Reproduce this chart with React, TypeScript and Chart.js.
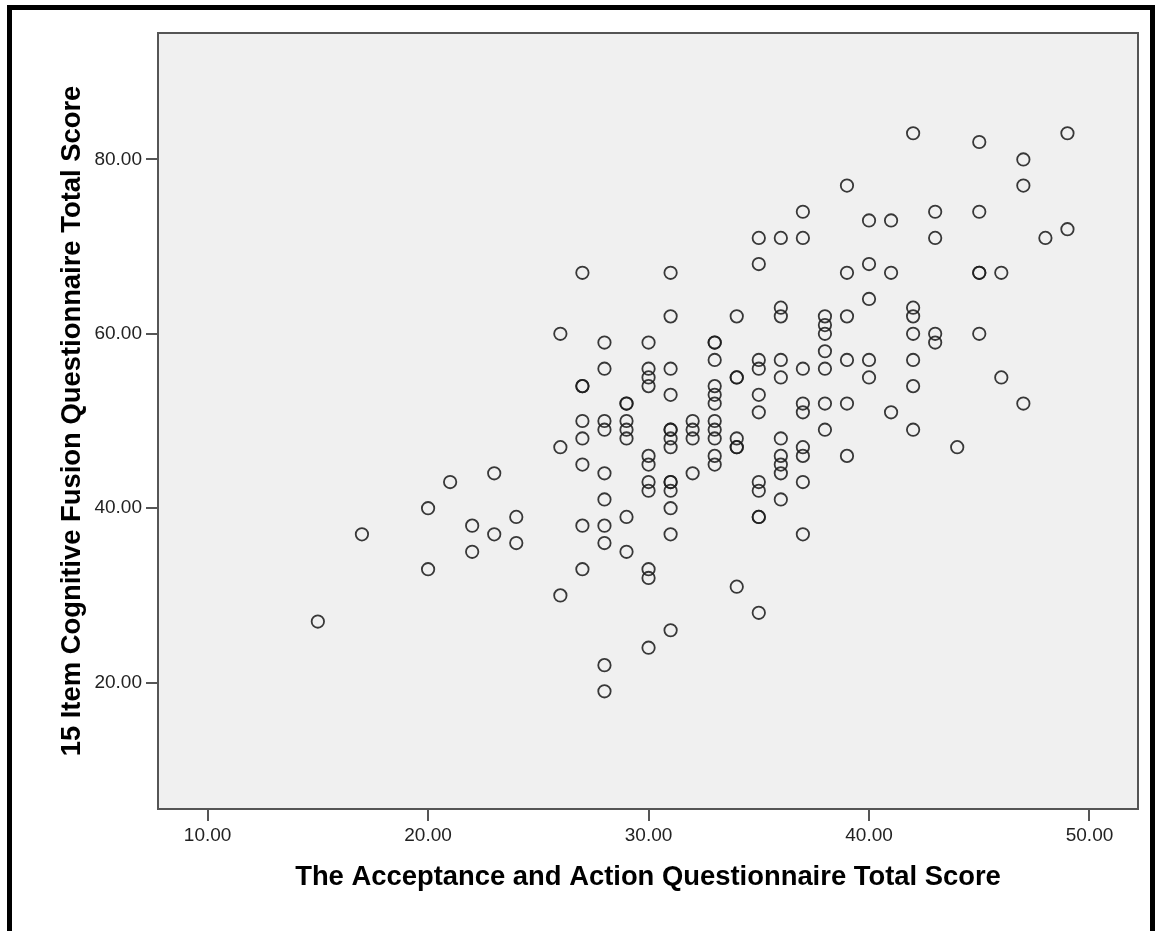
import React, { useEffect, useRef } from 'react';
import { Chart, registerables } from 'chart.js';

Chart.register(...registerables);

// The Acceptance and Action Questionnaire Total Score (x)
const aaqTotal: number[] = [
  15,
  17,
  20, 20,
  21,
  22, 22,
  23, 23,
  24, 24,
  26, 26, 26,
  27, 27, 27, 27, 27, 27, 27, 27,
  28, 28, 28, 28, 28, 28, 28, 28, 28, 28,
  29, 29, 29, 29, 29, 29, 29,
  30, 30, 30, 30, 30, 30, 30, 30, 30, 30, 30,
  31, 31, 31, 31, 31, 31, 31, 31, 31, 31, 31, 31, 31, 31,
  32, 32, 32, 32,
  33, 33, 33, 33, 33, 33, 33, 33, 33, 33, 33,
  34, 34, 34, 34, 34, 34, 34,
  35, 35, 35, 35, 35, 35, 35, 35, 35, 35, 35,
  36, 36, 36, 36, 36, 36, 36, 36, 36, 36,
  37, 37, 37, 37, 37, 37, 37, 37, 37,
  38, 38, 38, 38, 38, 38, 38,
  39, 39, 39, 39, 39, 39,
  40, 40, 40, 40, 40,
  41, 41, 41,
  42, 42, 42, 42, 42, 42, 42,
  43, 43, 43, 43,
  44,
  45, 45, 45, 45, 45,
  46, 46,
  47, 47, 47,
  48,
  49, 49,
];

// 15 Item Cognitive Fusion Questionnaire Total Score (y)
const cfqTotal: number[] = [
  27,
  37,
  40, 33,
  43,
  38, 35,
  44, 37,
  39, 36,
  60, 47, 30,
  67, 54, 54, 50, 48, 45, 38, 33,
  59, 56, 50, 49, 44, 41, 38, 36, 22, 19,
  52, 52, 50, 49, 48, 39, 35,
  59, 56, 55, 54, 46, 45, 43, 42, 33, 32, 24,
  67, 62, 56, 53, 49, 49, 48, 47, 43, 43, 42, 40, 37, 26,
  50, 49, 48, 44,
  59, 59, 57, 54, 53, 52, 50, 49, 48, 46, 45,
  62, 55, 55, 48, 47, 47, 31,
  71, 68, 57, 56, 53, 51, 43, 42, 39, 39, 28,
  71, 63, 62, 57, 55, 48, 46, 45, 44, 41,
  74, 71, 56, 52, 51, 47, 46, 43, 37,
  62, 61, 60, 58, 56, 52, 49,
  77, 67, 62, 57, 52, 46,
  73, 68, 64, 57, 55,
  73, 67, 51,
  83, 63, 62, 60, 57, 54, 49,
  74, 71, 60, 59,
  47,
  82, 74, 67, 67, 60,
  67, 55,
  80, 77, 52,
  71,
  83, 72,
];

const xTickValues: number[] = [10, 20, 30, 40, 50];
const yTickValues: number[] = [20, 40, 60, 80];
const xAxisTitle = 'The Acceptance and Action Questionnaire Total Score';
const yAxisTitle = '15 Item Cognitive Fusion Questionnaire Total Score';

const W = 1157;
const H = 931;
const FONT = '"Liberation Sans", Arial, Helvetica, sans-serif';

const framePlugin = {
  id: 'spssFrame',
  beforeDraw(chart: any) {
    const { ctx, chartArea: a } = chart;
    ctx.save();
    ctx.fillStyle = '#ffffff';
    ctx.fillRect(0, 0, W, H);
    // outer black frame
    ctx.fillStyle = '#000000';
    ctx.fillRect(7, 5, 5, H);
    ctx.fillRect(7, 5, 1148, 5);
    ctx.fillRect(1150, 5, 5, H);
    // plot background
    ctx.fillStyle = '#f0f0f0';
    ctx.fillRect(a.left, a.top, a.right - a.left, a.bottom - a.top);
    ctx.strokeStyle = '#555555';
    ctx.lineWidth = 2;
    ctx.strokeRect(a.left, a.top, a.right - a.left, a.bottom - a.top);
    ctx.restore();
  },
};

export default function App() {
  const canvasRef = useRef<HTMLCanvasElement | null>(null);

  useEffect(() => {
    const canvas = canvasRef.current;
    if (!canvas) return;
    const points = aaqTotal.map((x, i) => ({ x, y: cfqTotal[i] }));
    const chart = new Chart(canvas, {
      type: 'scatter',
      data: {
        datasets: [
          {
            data: points,
            pointRadius: 6.2,
            pointHoverRadius: 6.2,
            pointBorderWidth: 1.8,
            pointBorderColor: 'rgba(30,30,30,0.88)',
            pointBackgroundColor: 'rgba(0,0,0,0)',
            pointStyle: 'circle',
          },
        ],
      },
      options: {
        responsive: false,
        animation: false,
        devicePixelRatio: 1,
        layout: { padding: { top: 33, right: 19, left: 0, bottom: 0 } },
        plugins: {
          legend: { display: false },
          tooltip: { enabled: false },
        },
        events: [],
        scales: {
          x: {
            type: 'linear',
            min: 7.75,
            max: 52.2,
            afterBuildTicks: (s: any) => {
              s.ticks = xTickValues.map((v) => ({ value: v }));
            },
            afterFit: (s: any) => {
              s.height = 122;
            },
            ticks: {
              callback: (v: any) => Number(v).toFixed(2),
              font: { family: FONT, size: 19 },
              color: '#222222',
              padding: 3,
              maxRotation: 0,
              autoSkip: false,
            },
            grid: {
              drawOnChartArea: false,
              drawTicks: true,
              tickLength: 12,
              color: '#555555',
              lineWidth: 2,
            },
            border: { display: false },
            title: {
              display: true,
              text: xAxisTitle,
              color: '#000000',
              font: { family: FONT, size: 27.4, weight: 'bold' },
              padding: { top: 0, bottom: 37 },
            },
          },
          y: {
            type: 'linear',
            min: 5.5,
            max: 94.5,
            afterBuildTicks: (s: any) => {
              s.ticks = yTickValues.map((v) => ({ value: v }));
            },
            afterFit: (s: any) => {
              s.width = 158;
            },
            ticks: {
              callback: (v: any) => Number(v).toFixed(2),
              font: { family: FONT, size: 19 },
              color: '#222222',
              padding: 4,
              autoSkip: false,
            },
            grid: {
              drawOnChartArea: false,
              drawTicks: true,
              tickLength: 12,
              color: '#555555',
              lineWidth: 2,
            },
            border: { display: false },
            title: {
              display: true,
              text: yAxisTitle,
              color: '#000000',
              font: { family: FONT, size: 27.4, weight: 'bold' },
              padding: { top: 56, bottom: 0 },
            },
          },
        },
      },
      plugins: [framePlugin],
    });
    return () => chart.destroy();
  }, []);

  return (
    <div style={{ position: 'fixed', left: 0, top: 0, width: W, height: H, overflow: 'hidden' }}>
      <canvas ref={canvasRef} width={W} height={H} style={{ width: W, height: H, display: 'block' }} />
    </div>
  );
}
